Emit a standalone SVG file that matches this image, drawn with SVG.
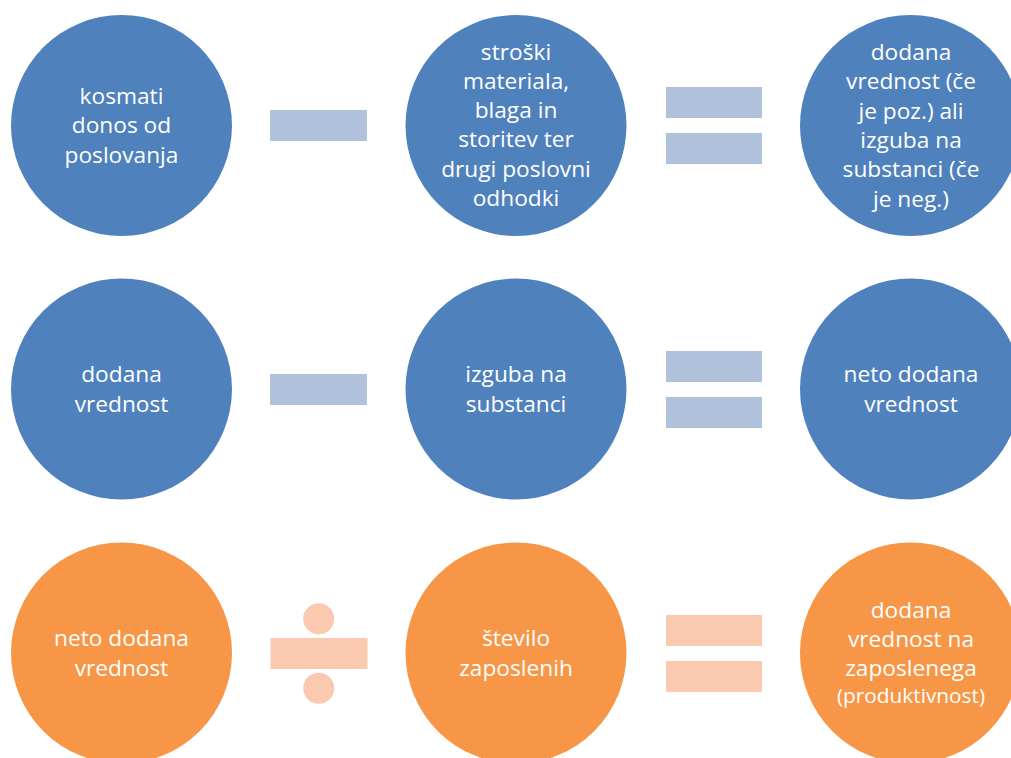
<svg xmlns="http://www.w3.org/2000/svg" width="1011" height="758" viewBox="0 0 1011 758">
<style>
.b{fill:#4F81BD}
.o{fill:#F79646}
.lb{fill:#B0C1DC}
.lo{fill:#FAC9B0}
text{font-family:"Open Sans","Liberation Sans",sans-serif;font-size:22.7px;fill:#FFFFFF;text-anchor:middle}
.s{font-size:20.8px}
</style>
<rect width="1011" height="758" fill="#FFFFFF"/>
<g id="operators">
<rect class="lb" x="270" y="110" width="97" height="31"/>
<rect class="lb" x="666" y="87" width="96" height="31"/>
<rect class="lb" x="666" y="133" width="96" height="31"/>
<rect class="lb" x="270" y="374" width="97" height="31"/>
<rect class="lb" x="666" y="351" width="96" height="31"/>
<rect class="lb" x="666" y="397" width="96" height="31"/>
<rect class="lo" x="270.5" y="638" width="97" height="31"/>
<circle class="lo" cx="318.7" cy="618.7" r="15.5"/>
<circle class="lo" cx="318.7" cy="688.3" r="15.5"/>
<rect class="lo" x="666" y="615" width="96" height="31"/>
<rect class="lo" x="666" y="661" width="96" height="31"/>
</g>
<g id="n1">
<circle class="b" cx="121.5" cy="125.5" r="110.5"/>
<text x="121.5" y="104">kosmati</text>
<text x="121.5" y="133.3">donos od</text>
<text x="121.5" y="162.6">poslovanja</text>
</g>
<g id="n2">
<circle class="b" cx="516" cy="125.5" r="110.5"/>
<text x="516" y="59.5">stroški</text>
<text x="516" y="88.8">materiala,</text>
<text x="516" y="118.1">blaga in</text>
<text x="516" y="147.4">storitev ter</text>
<text x="516" y="176.7">drugi poslovni</text>
<text x="516" y="206">odhodki</text>
</g>
<g id="n3">
<circle class="b" cx="910.5" cy="125.5" r="110.5"/>
<text x="911" y="60">dodana</text>
<text x="911" y="89.3">vrednost (če</text>
<text x="911" y="118.6">je poz.) ali</text>
<text x="911" y="147.9">izguba na</text>
<text x="911" y="177.2">substanci (če</text>
<text x="911" y="206.5">je neg.)</text>
</g>
<g id="n4">
<circle class="b" cx="121.5" cy="389" r="110.5"/>
<text x="121.5" y="382">dodana</text>
<text x="121.5" y="411.5">vrednost</text>
</g>
<g id="n5">
<circle class="b" cx="516" cy="389" r="110.5"/>
<text x="516" y="382">izguba na</text>
<text x="516" y="411.5">substanci</text>
</g>
<g id="n6">
<circle class="b" cx="910.5" cy="389" r="110.5"/>
<text x="911" y="382">neto dodana</text>
<text x="911" y="411.5">vrednost</text>
</g>
<g id="n7">
<circle class="o" cx="121.5" cy="653" r="110.5"/>
<text x="121.5" y="646">neto dodana</text>
<text x="121.5" y="675.5">vrednost</text>
</g>
<g id="n8">
<circle class="o" cx="516" cy="653" r="110.5"/>
<text x="516" y="646">število</text>
<text x="516" y="675.5">zaposlenih</text>
</g>
<g id="n9">
<circle class="o" cx="910.5" cy="653" r="110.5"/>
<text x="911" y="618.3">dodana</text>
<text x="911" y="647.3">vrednost na</text>
<text x="911" y="676">zaposlenega</text>
<text class="s" x="911" y="703.3">(produktivnost)</text>
</g>
</svg>
